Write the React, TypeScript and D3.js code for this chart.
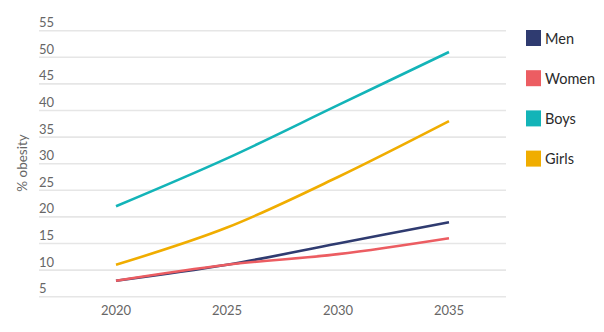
import React from "react";
import * as d3 from "d3";

const years = [2020, 2025, 2030, 2035];
const yTicks = [5, 10, 15, 20, 25, 30, 35, 40, 45, 50, 55];
const seriesNames = ["Men", "Women", "Boys", "Girls"];
const seriesColors = ["#2f3b70", "#ec5d62", "#13b4b8", "#f0ad00"];
const men = [8, 11, 15, 19];
const women = [8, 11, 13, 16];
const boys = [22, 31, 41, 51];
const girls = [11, 18, 27.5, 38];
const seriesValues = [men, women, boys, girls];

const W = 604;
const H = 332;

export default function App() {
  const x = d3.scaleLinear().domain([2020, 2035]).range([116, 449]);
  const y = d3.scaleLinear().domain([5, 55]).range([296.7, 30.7]);
  const gridX0 = 39;
  const gridX1 = 506;
  const line = d3
    .line<number>()
    .x((_, i) => x(years[i]))
    .y((v) => y(v))
    .curve(d3.curveCatmullRom.alpha(0.5));
  const font = "Lato, 'Open Sans', sans-serif";
  const order = [2, 3, 0, 1];
  return (
    <svg
      width={W}
      height={H}
      style={{ position: "fixed", left: 0, top: 0, background: "#fff" }}
      fontFamily={font}
    >
      {yTicks.map((t) => (
        <g key={t}>
          <line
            x1={gridX0}
            x2={gridX1}
            y1={y(t)}
            y2={y(t)}
            stroke="#e6e6e6"
            strokeWidth={1.6}
          />
          <text x={gridX0} y={y(t) - 3.5} fontSize={13} fill="#666">
            {t}
          </text>
        </g>
      ))}
      {years.map((yr) => (
        <text
          key={yr}
          x={x(yr)}
          y={314.5}
          fontSize={13}
          fill="#666"
          textAnchor="middle"
        >
          {yr}
        </text>
      ))}
      <text
        transform={`translate(27,163) rotate(-90)`}
        fontSize={13.5}
        fill="#666"
        textAnchor="middle"
      >
        % obesity
      </text>
      {order.map((i) => (
        <path
          key={seriesNames[i]}
          d={line(seriesValues[i]) || ""}
          fill="none"
          stroke={seriesColors[i]}
          strokeWidth={2.6}
          strokeLinecap="butt"
        />
      ))}
      {seriesNames.map((n, i) => (
        <g key={n} transform={`translate(526,${30 + i * 40.2})`}>
          <rect width={15} height={16} fill={seriesColors[i]} />
          <text x={19} y={13.5} fontSize={14.5} fill="#2a2a2a">
            {n}
          </text>
        </g>
      ))}
    </svg>
  );
}
